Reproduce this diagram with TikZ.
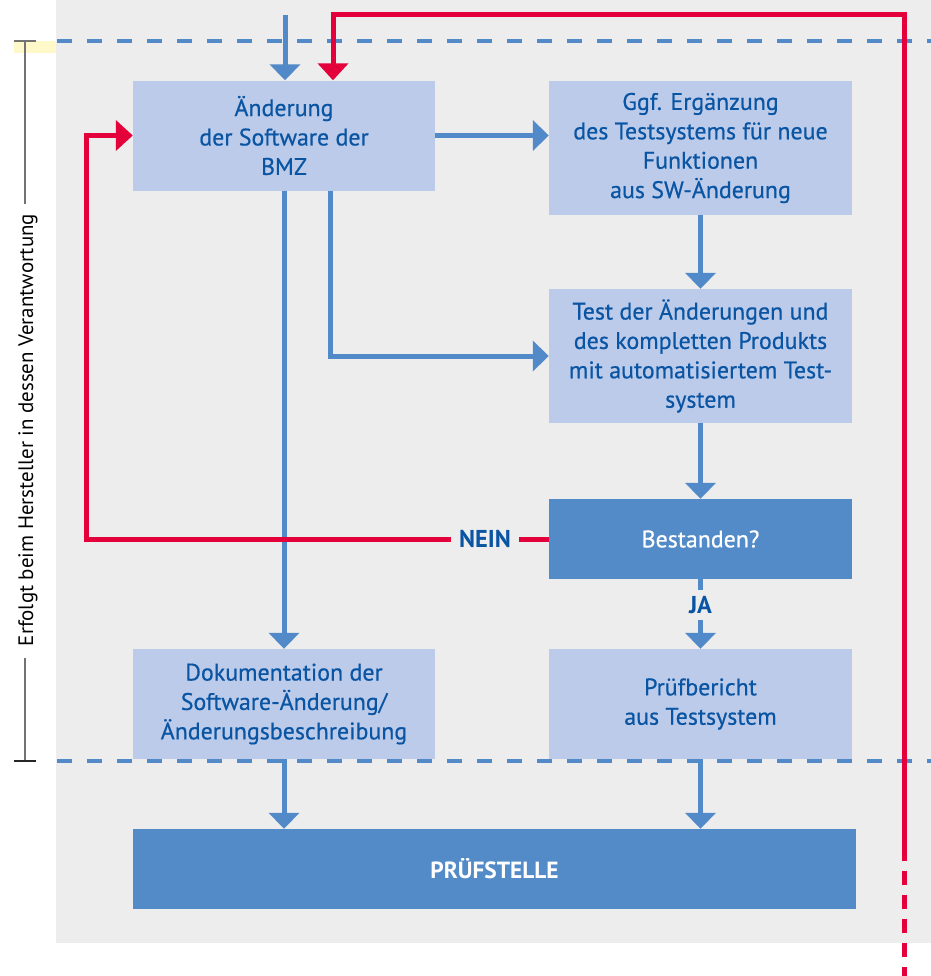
\documentclass[tikz,border=0pt]{standalone}
\usepackage{fontspec}
\setmainfont{PT Sans}
\newfontfamily\medfont[FakeBold=0.6]{PT Sans}
\usetikzlibrary{arrows.meta,calc}
\definecolor{bg}{HTML}{EDEDED}
\definecolor{lightbox}{HTML}{BCCBEA}
\definecolor{darkbox}{HTML}{528BC8}
\definecolor{lineblue}{HTML}{5289C8}
\definecolor{txtblue}{HTML}{0A55A3}
\definecolor{redline}{HTML}{E4003A}
\definecolor{hl}{HTML}{FFF8C8}
\begin{document}
\begin{tikzpicture}[x=1bp,y=-1bp,
  lbox/.style={draw=none, fill=lightbox, text=txtblue, align=center, inner sep=0pt,
    font=\medfont\fontsize{24}{29.5}\selectfont},
  dbox/.style={draw=none, fill=darkbox, text=white, align=center, inner sep=0pt,
    font=\medfont\fontsize{24}{29.5}\selectfont},
  lab/.style={text=txtblue, inner xsep=8bp, inner ysep=6bp, font=\bfseries\fontsize{24.5}{28}\selectfont},
  bline/.style={draw=lineblue, line width=5bp},
  barrow/.style={bline, -{Triangle[width=30bp,length=16bp]}},
  rline/.style={draw=redline, line width=5bp},
  rarrow/.style={rline, -{Triangle[width=30bp,length=17bp]}},
  dashblue/.style={draw=lineblue, line width=4bp, dash pattern=on 15bp off 15bp},
]
\useasboundingbox (0,0) rectangle (931,976);
% background
\fill[bg] (56,0) rectangle (931,943);
\fill[hl] (14,41) rectangle (56,53);
% dashed boundaries
\draw[dashblue] (57,41) -- (931,41);
\draw[dashblue] (57,761) -- (931,761);
% responsibility bracket
\node[rotate=90, inner sep=0pt, font=\fontsize{21}{25}\selectfont] (resp) at (28,430) {Erfolgt beim Hersteller in dessen Verantwortung};
\coordinate (btop) at (25,41);
\coordinate (bbot) at (25,761);
\draw[line width=1.5bp, draw=black!55] (14,41) -- (36,41);
\draw[line width=1.5bp, draw=black!55] (btop) -- ($(btop |- resp.east)+(0,-10)$);
\draw[line width=1.5bp, draw=black!55] ($(bbot |- resp.west)+(0,12)$) -- (bbot);
\draw[line width=1.5bp, draw=black!85] (14,761) -- (36,761);
% boxes
\node[lbox, minimum width=302bp, minimum height=110bp] (A) at (284,135.5) {Änderung\\der Software der\\BMZ};
\node[lbox, minimum width=303bp, minimum height=134bp] (B) at (700.5,148) {Ggf. Ergänzung\\des Testsystems für neue\\Funktionen\\aus SW-Änderung};
\node[lbox, minimum width=303bp, minimum height=134bp] (C) at (700.5,356) {Test der Änderungen und\\des kompletten Produkts\\mit automatisiertem Test-\\system};
\node[dbox, minimum width=303bp, minimum height=80bp] (D) at (700.5,539) {Bestanden?};
\node[lbox, minimum width=303bp, minimum height=110bp] (E) at (700.5,704) {Prüfbericht\\aus Testsystem};
\node[lbox, minimum width=302bp, minimum height=110bp] (F) at (284,704) {Dokumentation der\\Software-Änderung/\\Änderungsbeschreibung};
\node[dbox, minimum width=723bp, minimum height=80bp, font=\bfseries\fontsize{23.5}{26}\selectfont] (G) at (494.5,869) {PRÜFSTELLE};
% labels
\node[lab] (nein) at (485,539) {NEIN};
\node[lab] (ja) at (700.5,605) {JA};
% blue connectors
\coordinate (in) at (285,15);
\draw[barrow] (in) -- (in |- A.north);
\draw[barrow] (A.east) -- (A.east -| B.west);
\draw[barrow] (B.south) -- (C.north);
\draw[barrow] ($(A.south)+(46,0)$) |- (C.west);
\draw[barrow] (C.south) -- (D.north);
\draw[bline] (D.south) -- (ja.north);
\draw[barrow] (ja.south) -- (E.north);
\draw[barrow] (A.south) -- (F.north);
\draw[barrow] (F.south) -- (F.south |- G.north);
\draw[barrow] (E.south) -- (E.south |- G.north);
% red connectors
\coordinate (nl) at (86,539);
\draw[rline] (D.west) -- (nein.east);
\draw[rarrow] (nein.west) -- (nl) |- (A.west);
\coordinate (rb) at (904,861);
\coordinate (rbot) at (904,976);
\coordinate (rtop) at (904,14.5);
\draw[rarrow] (rb) -- (rtop) -| ($(A.north)+(49,0)$);
\draw[rline, dash pattern=on 14bp off 10bp, dash phase=14bp] (rb) -- (rbot);
\end{tikzpicture}
\end{document}
